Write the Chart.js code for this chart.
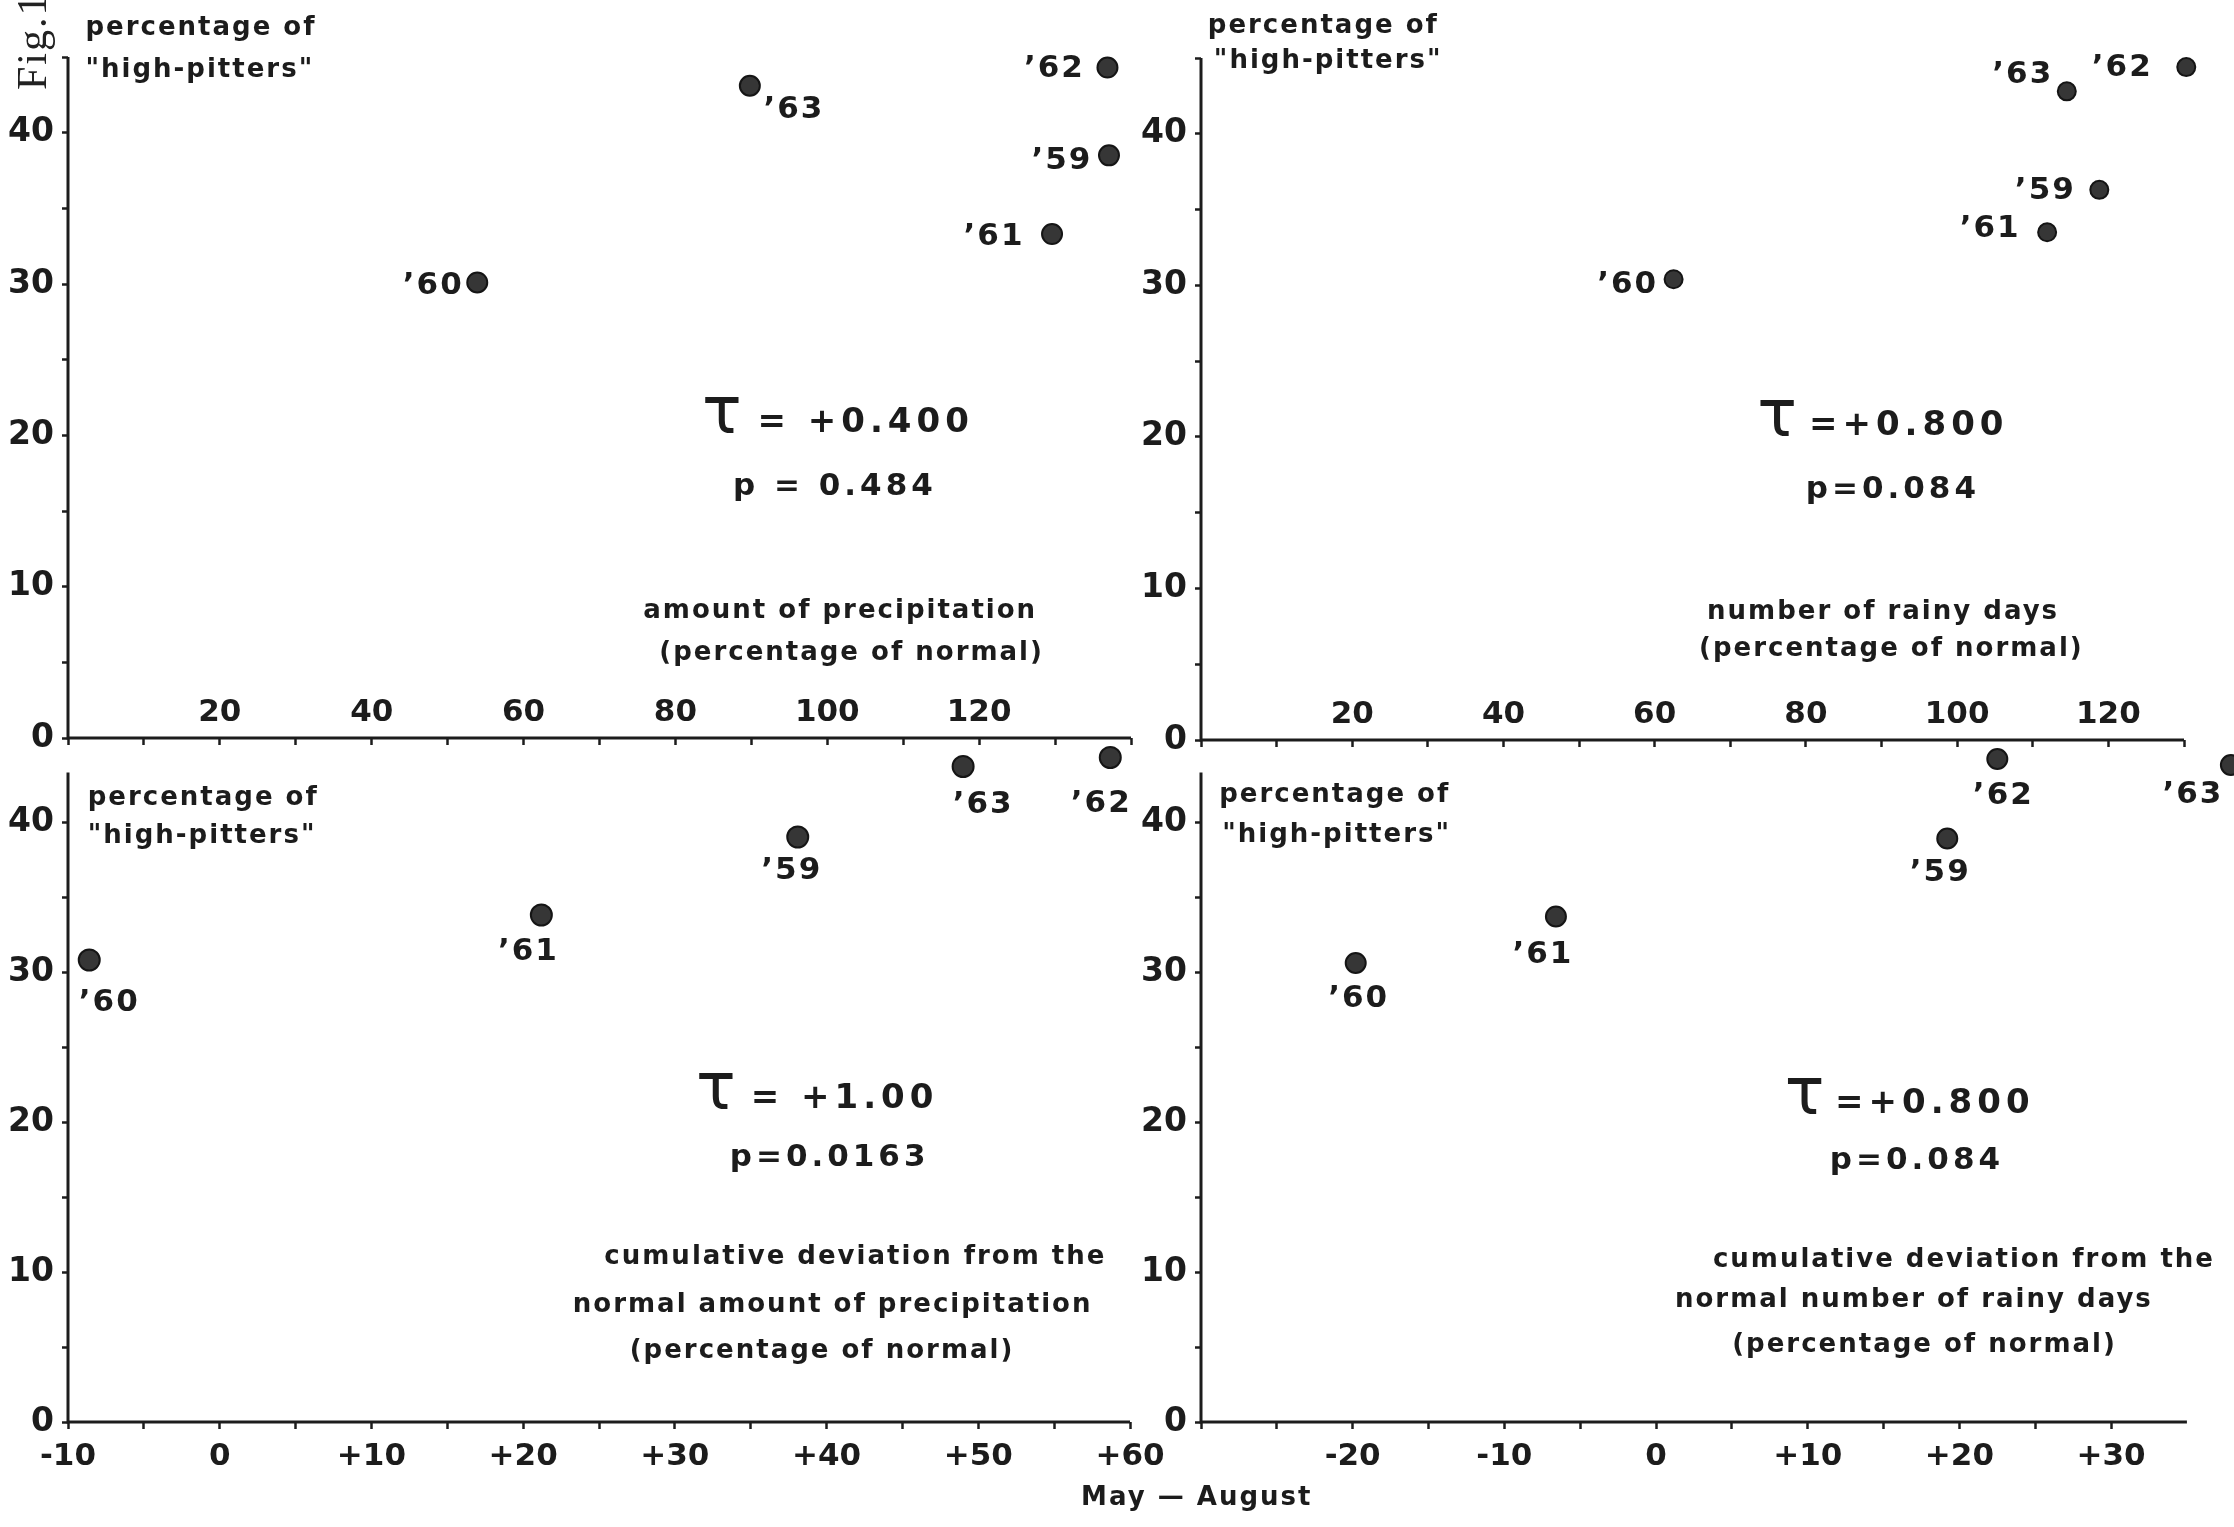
<!DOCTYPE html>
<html>
<head>
<meta charset="utf-8">
<script src="https://cdn.jsdelivr.net/npm/chart.js@4.4.0/dist/chart.umd.min.js"></script>
<style>
html, body { margin: 0; padding: 0; background: #fff; }
#page { position: relative; width: 2234px; height: 1527px; overflow: hidden; background: #fff; }
#page canvas { position: absolute; left: 0; top: 0; }
#fig { position: absolute; left: 8px; top: 90px; transform: rotate(-90deg); transform-origin: left top;
       font: 42px "Liberation Serif"; color: #222; letter-spacing: 2px; white-space: nowrap; }
</style>
</head>
<body>
<div id="page">
  <canvas id="precip" width="2234" height="1527"></canvas>
  <canvas id="rainy" width="2234" height="1527"></canvas>
  <canvas id="cumPrecip" width="2234" height="1527"></canvas>
  <canvas id="cumRainy" width="2300" height="1527"></canvas>
  <div id="fig">Fig.1</div>
</div>
<script>
// years, same order in every panel
var years = ["’59", "’60", "’61", "’62", "’63"];

// amount of precipitation (% of normal) vs % high-pitters
var precipX = [137.1, 53.9, 129.6, 136.9, 89.8];
var precipY = [38.5, 30.1, 33.3, 44.3, 43.1];

// number of rainy days (% of normal)
var rainyX = [118.8, 62.5, 111.9, 130.3, 114.5];
var rainyY = [36.3, 30.4, 33.5, 44.4, 42.8];

// cumulative deviation, precipitation
var cumPrecipX = [38.1, -8.6, 21.2, 58.7, 49.0];
var cumPrecipY = [39.0, 30.8, 33.8, 44.3, 43.7];

// cumulative deviation, rainy days
var cumRainyX = [19.2, -19.8, -6.6, 22.5, 37.9];
var cumRainyY = [38.9, 30.6, 33.7, 44.2, 43.8];

var yTickLabels = [0, 10, 20, 30, 40];
var percentTickLabels = [20, 40, 60, 80, 100, 120];
var cumPrecipTickLabels = [-10, 0, 10, 20, 30, 40, 50, 60];
var cumRainyTickLabels = [-20, -10, 0, 10, 20, 30];

var ink = "#1c1c1c";
var face = '"DejaVu Sans", sans-serif';

function fmtSigned(v) {
    return v > 0 ? "+" + v : String(v);
}

function notesPlugin(o) {
    return {
        id: "notes",
        afterDatasetsDraw: function (chart) {
            var ctx = chart.ctx;
            var sx = chart.scales.x, sy = chart.scales.y;
            var x0 = sx.getPixelForValue(o.xmin), y0 = sy.getPixelForValue(0);
            ctx.save();
            // axis lines, only as far as they were drawn
            ctx.strokeStyle = ink;
            ctx.lineWidth = 3;
            ctx.beginPath();
            ctx.moveTo(x0, sy.getPixelForValue(o.axisTop));
            ctx.lineTo(x0, y0);
            ctx.lineTo(sx.getPixelForValue(o.axisRight), y0);
            ctx.stroke();

            ctx.fillStyle = ink;
            ctx.textAlign = "center";
            ctx.textBaseline = "middle";
            // year labels next to the dots
            ctx.font = "bold 31px " + face;
            ctx.letterSpacing = "2px";
            chart.getDatasetMeta(0).data.forEach(function (pt, i) {
                ctx.fillText(years[i], pt.x + o.offsets[i][0], pt.y + o.offsets[i][1]);
            });
            o.notes.forEach(function (n) {
                ctx.font = (n.weight || "bold") + " " + n.size + "px " + face;
                ctx.letterSpacing = (n.spacing === undefined ? 2 : n.spacing) + "px";
                ctx.textAlign = n.align || "center";
                ctx.fillText(n.text, sx.getPixelForValue(n.x), sy.getPixelForValue(n.y));
            });
            ctx.restore();
        }
    };
}

function makePanel(id, xs, ys, o) {
    var pts = xs.map(function (x, i) { return { x: x, y: ys[i] }; });
    var keepFives = function (s) {
        var top = s.axis === "y" ? o.axisTop : o.axisRight;
        s.ticks = s.ticks.filter(function (t) {
            return Math.abs(t.value % 5) < 1e-9 && t.value <= top + 1e-9;
        });
    };
    return new Chart(document.getElementById(id), {
        type: "scatter",
        data: {
            datasets: [{
                data: pts,
                backgroundColor: "#363636",
                borderColor: "#151515",
                borderWidth: 2,
                pointRadius: o.radius,
                clip: false
            }]
        },
        options: {
            responsive: false,
            animation: false,
            events: [],
            layout: { padding: o.pad },
            plugins: { legend: { display: false }, tooltip: { enabled: false } },
            scales: {
                x: {
                    type: "linear",
                    position: "bottom",
                    bounds: "data",
                    min: o.xmin,
                    max: o.xmax,
                    afterFit: function (s) { s.height = o.xHeight; },
                    afterBuildTicks: keepFives,
                    ticks: {
                        stepSize: o.xstep,
                        maxTicksLimit: 100,
                        autoSkip: false,
                        maxRotation: 0,
                        mirror: o.mirror,
                        padding: o.xPad,
                        color: ink,
                        font: { family: face, size: 31, weight: "bold", lineHeight: 1 },
                        callback: function (v) {
                            return o.xLabels.indexOf(v) >= 0 ? o.fmt(v) : "";
                        }
                    },
                    grid: { drawOnChartArea: false, drawTicks: true, tickLength: 7, tickWidth: 2.5, tickColor: ink },
                    border: { display: false }
                },
                y: {
                    type: "linear",
                    position: "left",
                    bounds: "data",
                    min: 0,
                    max: o.ymax,
                    afterFit: function (s) { s.width = 60; },
                    afterBuildTicks: keepFives,
                    ticks: {
                        stepSize: 5,
                        maxTicksLimit: 100,
                        autoSkip: false,
                        padding: 8,
                        color: ink,
                        font: { family: face, size: 33, weight: "bold", lineHeight: 1 },
                        callback: function (v) {
                            return yTickLabels.indexOf(v) >= 0 ? String(v) : "";
                        }
                    },
                    grid: { drawOnChartArea: false, drawTicks: true, tickLength: 6, tickWidth: 2.5, tickColor: ink },
                    border: { display: false }
                }
            }
        },
        plugins: [notesPlugin(o)]
    });
}

makePanel("precip", precipX, precipY, {
    pad: { left: 8, right: 1103, top: 57, bottom: 769 },
    xmin: 0, xmax: 140, axisRight: 140, xstep: 10, ymax: 45, axisTop: 45, xHeight: 20, mirror: true, xPad: 10,
    xLabels: percentTickLabels, fmt: String, radius: 10,
    offsets: [[-47, 6], [-44, 3], [-58, 3], [-53, 1], [44, 24]],
    notes: [
        { text: "percentage of", x: 2.3, y: 46.9, size: 26, align: "left" },
        { text: "\"high-pitters\"", x: 2.3, y: 44.1, size: 26, align: "left" },
        { text: "τ", x: 86.1, y: 21.3, size: 66, spacing: 0, weight: "normal" },
        { text: "= +0.400", x: 90.8, y: 20.8, size: 34, spacing: 5, align: "left" },
        { text: "p = 0.484", x: 101, y: 16.6, size: 31, spacing: 4 },
        { text: "amount of precipitation", x: 101.7, y: 8.4, size: 26 },
        { text: "(percentage of normal)", x: 103.2, y: 5.6, size: 26 }
    ]
});

makePanel("rainy", rainyX, rainyY, {
    pad: { left: 1141, right: 50, top: 58, bottom: 767 },
    xmin: 0, xmax: 130, axisRight: 130, xstep: 10, ymax: 45, axisTop: 45, xHeight: 20, mirror: true, xPad: 10,
    xLabels: percentTickLabels, fmt: String, radius: 9,
    offsets: [[-54, 1], [-46, 6], [-57, -3], [-64, 1], [-44, -16]],
    notes: [
        { text: "percentage of", x: 0.9, y: 47.1, size: 26, align: "left" },
        { text: "\"high-pitters\"", x: 1.7, y: 44.8, size: 26, align: "left" },
        { text: "τ", x: 76.2, y: 21.2, size: 66, spacing: 0, weight: "normal" },
        { text: "=+0.800", x: 80.4, y: 20.7, size: 34, spacing: 5, align: "left" },
        { text: "p=0.084", x: 91.5, y: 16.5, size: 31, spacing: 4 },
        { text: "number of rainy days", x: 90.2, y: 8.45, size: 26 },
        { text: "(percentage of normal)", x: 91.3, y: 6.0, size: 26 }
    ]
});

makePanel("cumPrecip", cumPrecipX, cumPrecipY, {
    pad: { left: 8, right: 1104, top: 732, bottom: 45 },
    xmin: -10, xmax: 60, axisRight: 60, xstep: 5, ymax: 46, axisTop: 43.3, xHeight: 60, mirror: false, xPad: 12,
    xLabels: cumPrecipTickLabels, fmt: fmtSigned, radius: 10.5,
    offsets: [[-6, 34], [20, 43], [-13, 37], [-9, 46], [20, 38]],
    notes: [
        { text: "percentage of", x: -8.7, y: 41.6, size: 26, align: "left" },
        { text: "\"high-pitters\"", x: -8.7, y: 39.05, size: 26, align: "left" },
        { text: "τ", x: 32.7, y: 22.0, size: 66, spacing: 0, weight: "normal" },
        { text: "= +1.00", x: 35.0, y: 21.5, size: 34, spacing: 5, align: "left" },
        { text: "p=0.0163", x: 40.2, y: 17.6, size: 31, spacing: 4 },
        { text: "cumulative deviation from the", x: 41.9, y: 11.0, size: 26 },
        { text: "normal amount of precipitation", x: 40.4, y: 7.8, size: 26 },
        { text: "(percentage of normal)", x: 39.7, y: 4.7, size: 26 },
        { text: "May — August", x: 64.4, y: -5.1, size: 26 }
    ]
});

makePanel("cumRainy", cumRainyX, cumRainyY, {
    pad: { left: 1141, right: 60, top: 732, bottom: 45 },
    xmin: -30, xmax: 38.5, axisRight: 35, xstep: 5, ymax: 46, axisTop: 43.3, xHeight: 60, mirror: false, xPad: 12,
    xLabels: cumRainyTickLabels, fmt: fmtSigned, radius: 10,
    offsets: [[-7, 34], [3, 36], [-13, 38], [6, 37], [-38, 30]],
    notes: [
        { text: "percentage of", x: -28.8, y: 41.8, size: 26, align: "left" },
        { text: "\"high-pitters\"", x: -28.6, y: 39.1, size: 26, align: "left" },
        { text: "τ", x: 9.8, y: 21.7, size: 66, spacing: 0, weight: "normal" },
        { text: "=+0.800", x: 11.8, y: 21.2, size: 34, spacing: 5, align: "left" },
        { text: "p=0.084", x: 17.2, y: 17.4, size: 31, spacing: 4 },
        { text: "cumulative deviation from the", x: 20.3, y: 10.8, size: 26 },
        { text: "normal number of rainy days", x: 17.0, y: 8.1, size: 26 },
        { text: "(percentage of normal)", x: 17.7, y: 5.1, size: 26 }
    ]
});
</script>
</body>
</html>
